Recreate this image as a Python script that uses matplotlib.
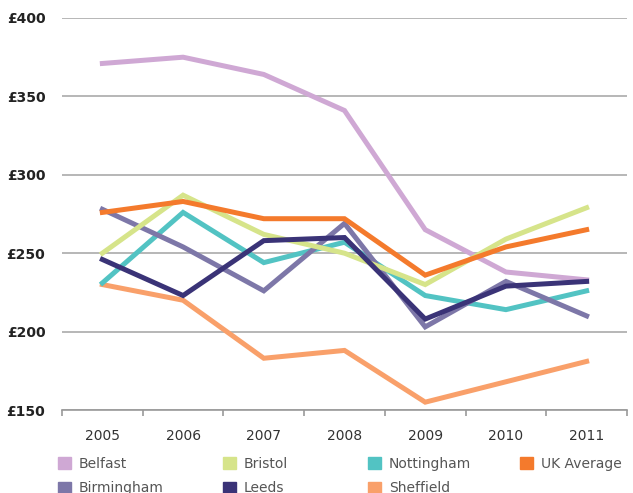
import matplotlib
matplotlib.use("Agg")
import matplotlib.pyplot as plt
from matplotlib.patches import Patch
import numpy as np

years = ["2005", "2006", "2007", "2008", "2009", "2010", "2011"]

belfast = [371, 375, 364, 341, 265, 238, 233]
bristol = [250, 287, 262, 250, 230, 259, 279]
nottingham = [231, 276, 244, 257, 223, 214, 226]
uk_average = [276, 283, 272, 272, 236, 254, 265]
birmingham = [278, 254, 226, 269, 203, 232, 210]
leeds = [246, 223, 258, 260, 208, 229, 232]
sheffield = [230, 220, 183, 188, 155, 168, 181]

yticks = [150, 200, 250, 300, 350, 400]
ytick_labels = ["£150", "£200", "£250", "£300", "£350", "£400"]

series = [
    ("Belfast", belfast, "#cfa8d4"),
    ("Bristol", bristol, "#d6e48a"),
    ("Nottingham", nottingham, "#52c3c3"),
    ("UK Average", uk_average, "#f47a2c"),
    ("Birmingham", birmingham, "#7d77a8"),
    ("Leeds", leeds, "#3a3377"),
    ("Sheffield", sheffield, "#f9a06a"),
]

fig = plt.figure(figsize=(6.33, 4.93), dpi=100)
ax = fig.add_axes([62/633, 1-410/493, (627-62)/633, (410-18)/493])

x = np.arange(len(years))
# draw order roughly as in the picture
order = ["Belfast", "Sheffield", "Nottingham", "Birmingham", "Bristol", "UK Average", "Leeds"]
lookup = {n: (v, c) for n, v, c in series}
for z, name in enumerate(order):
    vals, col = lookup[name]
    ax.plot(x, vals, color=col, lw=3.6, solid_joinstyle="miter", zorder=3+z)

ax.set_xlim(-0.5, 6.5)
ax.set_ylim(150, 400)
ax.set_yticks(yticks)
ax.set_yticklabels(ytick_labels, fontsize=10, fontweight="bold", color="#222222")
ax.set_xticks(x)
ax.set_xticklabels(years, fontsize=10, color="#333333")
ax.set_xticks(np.arange(-0.5, 7, 1), minor=True)
ax.tick_params(axis="x", which="major", length=0, pad=14)
ax.tick_params(axis="x", which="minor", length=4, color="#999999", width=1.2)
ax.tick_params(axis="y", length=0, pad=12)
ax.grid(axis="y", color="#aaaaaa", lw=1.2, zorder=0)
for s in ["top", "right", "left"]:
    ax.spines[s].set_visible(False)
ax.spines["bottom"].set_color("#999999")
ax.spines["bottom"].set_linewidth(1.2)

# legend: four columns at fixed positions
handles = {n: Patch(color=c, label=n) for n, v, c in series}
columns = [["Belfast", "Birmingham"], ["Bristol", "Leeds"],
           ["Nottingham", "Sheffield"], ["UK Average"]]
col_x = [58, 223, 368, 520]
for names, cx in zip(columns, col_x):
    hs = [handles[n] for n in names]
    leg = fig.legend(handles=hs, labels=names, ncol=1,
                     loc="upper left", bbox_to_anchor=(cx/633, 1-457/493),
                     frameon=False, fontsize=10, handlelength=0.9, handleheight=0.9,
                     handletextpad=0.6, labelspacing=0.75, borderpad=0, borderaxespad=0)
    for t in leg.get_texts():
        t.set_color("#555555")

fig.savefig("out.png", dpi=100)
